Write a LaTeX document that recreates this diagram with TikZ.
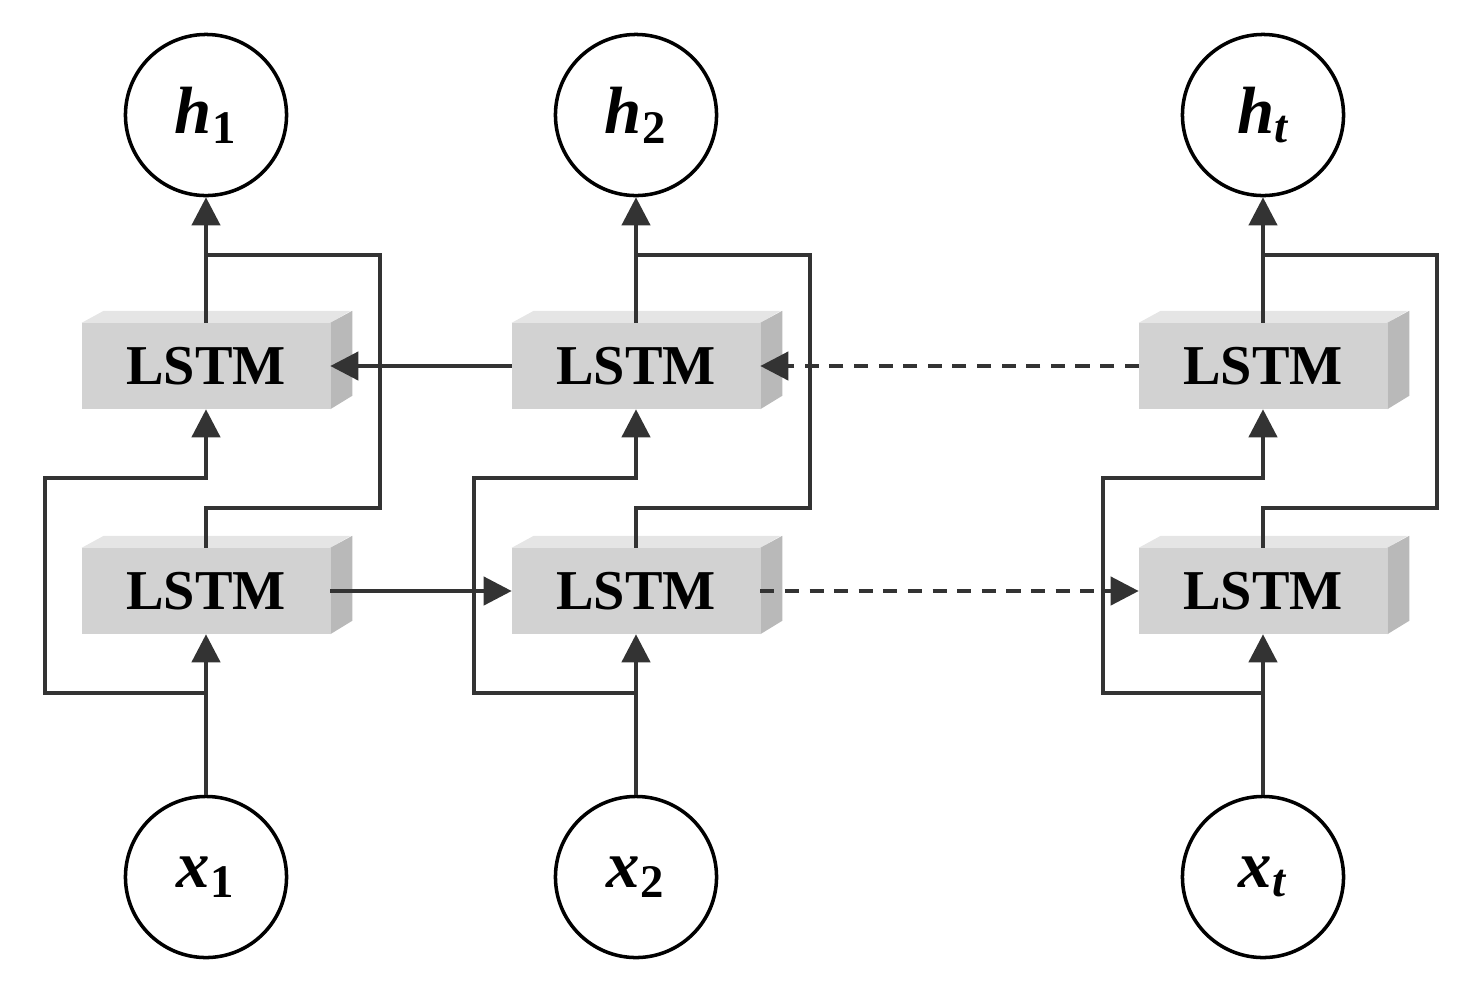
\documentclass[tikz,border=0pt]{standalone}
\usepackage{fontspec}
\setmainfont{Liberation Serif}
\usetikzlibrary{arrows.meta}
\begin{document}
\begin{tikzpicture}[x=0.01cm,y=-0.01cm,
  circ/.style={circle,draw,line width=1pt,minimum size=4.6cm*0.35,inner sep=0pt,font=\fontsize{19}{22}\selectfont\bfseries\itshape},
  lstm/.style={rectangle,fill=gray!35,minimum width=2.47cm,minimum height=0.85cm,inner sep=0pt,font=\fontsize{16}{19}\selectfont\bfseries},
  ln/.style={line width=1.2pt,black!80},
  arr/.style={ln,-{Triangle[length=8pt,width=8pt]}},
  dar/.style={arr,dashed,dash pattern=on 4pt off 3pt}]
\useasboundingbox (0,0) rectangle (1472,993);
\newcommand{\mybox}[3]{%
  \node[lstm] (#1) at (#2,#3) {LSTM};
  \fill[gray!20] (#1.north west) -- ++(22,-12) -- ++(247,0) -- (#1.north east) -- cycle;
  \fill[gray!55] (#1.north east) -- ++(22,-12) -- ++(0,85) -- (#1.south east) -- cycle;
}
\foreach \i/\x/\yt/\yb in {1/206/372/590, 2/636/372/590, 3/1263/372/597}{
  \node[circ] (h\i) at (\x,115) {};
  \node[circ] (x\i) at (\x,877) {};
}
\node at (h1) {\fontsize{19}{22}\selectfont\bfseries\itshape h\textsubscript{\upshape 1}};
\node at (h2) {\fontsize{19}{22}\selectfont\bfseries\itshape h\textsubscript{\upshape 2}};
\node at (h3) {\fontsize{19}{22}\selectfont\bfseries\itshape h\textsubscript{t}};
\node at (x1) {\fontsize{19}{22}\selectfont\bfseries\itshape x\textsubscript{\upshape 1}};
\node at (x2) {\fontsize{19}{22}\selectfont\bfseries\itshape x\textsubscript{\upshape 2}};
\node at (x3) {\fontsize{19}{22}\selectfont\bfseries\itshape x\textsubscript{t}};
\mybox{t1}{206}{366}
\mybox{b1}{206}{591}
\mybox{t2}{636}{366}
\mybox{b2}{636}{591}
\mybox{t3}{1263}{366}
\mybox{b3}{1263}{591}
% column wiring
\foreach \i/\x/\r/\l in {1/206/380/45, 2/636/810/474, 3/1263/1437/1103}{
  \draw[arr] (t\i.north) -- (h\i.south);
  \draw[arr] (x\i.north) -- (b\i.south);
  \draw[ln] (b\i.north) -- (\x,508) -- (\r,508) -- (\r,255) -- (\x,255);
  \draw[arr] (\x,693) -- (\l,693) -- (\l,478) -- (\x,478) -- (t\i.south);
}
\draw[arr] (t2.west) -- (t1.east);
\draw[dar] (t3.west) -- (t2.east);
\draw[arr] (b1.east) -- (b2.west);
\draw[dar] (b2.east) -- (b3.west);
\end{tikzpicture}
\end{document}
